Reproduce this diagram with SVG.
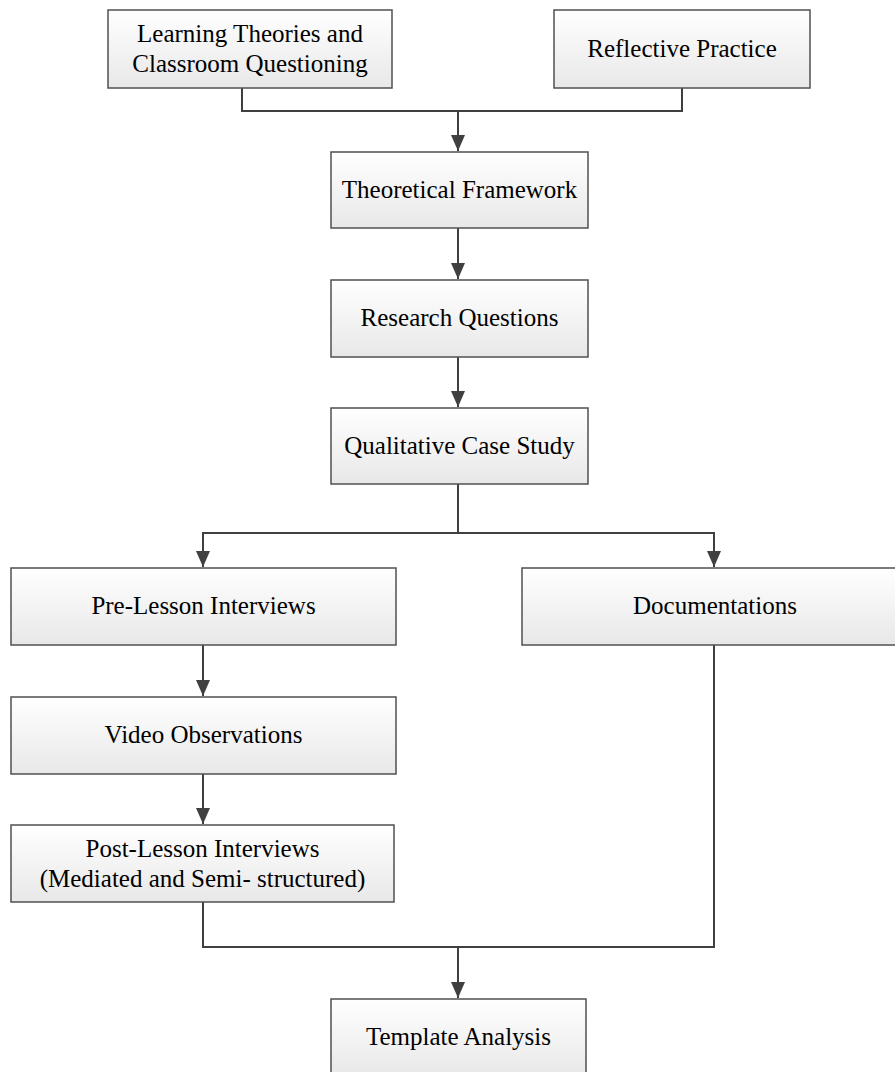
<svg xmlns="http://www.w3.org/2000/svg" width="895" height="1072" viewBox="0 0 895 1072">
<defs>
<linearGradient id="g" x1="0" y1="0" x2="0" y2="1">
<stop offset="0" stop-color="#ffffff"/>
<stop offset="1" stop-color="#e8e8e8"/>
</linearGradient>
<marker id="arr" viewBox="0 0 16 14" refX="16" refY="7" markerWidth="16" markerHeight="14" markerUnits="userSpaceOnUse" orient="auto">
<path d="M0,0 L16,7 L0,14 Z" fill="#404040"/>
</marker>
<style>
.box{fill:url(#g);stroke:#505050;stroke-width:1.5}
.t{font-family:"Liberation Serif","Times New Roman",serif;font-size:25px;fill:#000;text-anchor:middle}
.c{fill:none;stroke:#404040;stroke-width:2}
</style>
</defs>
<rect width="895" height="1072" fill="#fff"/>
<g id="connectors">
<path class="c" d="M242,88 V111 H682 V88"/>
<path class="c" d="M458,111 V151" marker-end="url(#arr)"/>
<path class="c" d="M458,228 V279" marker-end="url(#arr)"/>
<path class="c" d="M458,357 V407" marker-end="url(#arr)"/>
<path class="c" d="M458,484 V533"/>
<path class="c" d="M458,533 H203 V567" marker-end="url(#arr)"/>
<path class="c" d="M458,533 H714 V567" marker-end="url(#arr)"/>
<path class="c" d="M203,645 V696" marker-end="url(#arr)"/>
<path class="c" d="M203,774 V824" marker-end="url(#arr)"/>
<path class="c" d="M203,902 V947 H714 V645"/>
<path class="c" d="M458,947 V998" marker-end="url(#arr)"/>
</g>
<g id="learning">
<rect class="box" x="108" y="10" width="284" height="78"/>
<text class="t" x="250" y="42">Learning Theories and</text>
<text class="t" x="250" y="72">Classroom Questioning</text>
</g>
<g id="reflective">
<rect class="box" x="554" y="10" width="256" height="78"/>
<text class="t" x="682" y="57">Reflective Practice</text>
</g>
<g id="framework">
<rect class="box" x="331" y="152" width="257" height="76"/>
<text class="t" x="459.5" y="198">Theoretical Framework</text>
</g>
<g id="questions">
<rect class="box" x="331" y="280" width="257" height="77"/>
<text class="t" x="459.5" y="326">Research Questions</text>
</g>
<g id="casestudy">
<rect class="box" x="331" y="408" width="257" height="76"/>
<text class="t" x="459.5" y="454">Qualitative Case Study</text>
</g>
<g id="prelesson">
<rect class="box" x="11" y="568" width="385" height="77"/>
<text class="t" x="203.5" y="614">Pre-Lesson Interviews</text>
</g>
<g id="documentations">
<rect class="box" x="522" y="568" width="386" height="77"/>
<text class="t" x="715" y="614">Documentations</text>
</g>
<g id="video">
<rect class="box" x="11" y="697" width="385" height="77"/>
<text class="t" x="203.5" y="743">Video Observations</text>
</g>
<g id="postlesson">
<rect class="box" x="11" y="825" width="383" height="77"/>
<text class="t" x="202.5" y="857">Post-Lesson Interviews</text>
<text class="t" x="202.5" y="887">(Mediated and Semi- structured)</text>
</g>
<g id="template">
<rect class="box" x="331" y="999" width="255" height="77"/>
<text class="t" x="458.5" y="1045">Template Analysis</text>
</g>
</svg>
